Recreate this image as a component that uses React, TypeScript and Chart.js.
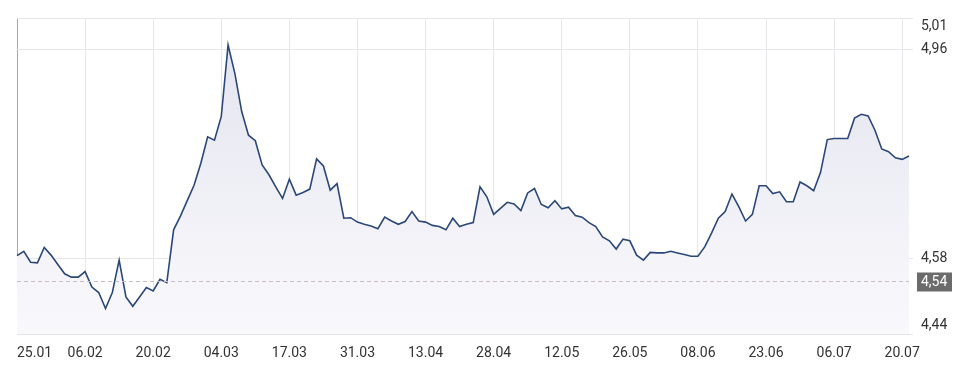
import { useEffect, useRef } from 'react';
import { Chart, registerables } from 'chart.js';

Chart.register(...registerables);

// Date labels shown every 10th point
const dateLabels = ['25.01', '06.02', '20.02', '04.03', '17.03', '31.03', '13.04', '28.04', '12.05', '26.05', '08.06', '23.06', '06.07', '20.07'];
const labelStep = 10;

// Series values (one per point)
const values = [
  4.586, 4.594, 4.574, 4.573, 4.601, 4.587, 4.570, 4.553, 4.547, 4.547,
  4.557, 4.529, 4.519, 4.490, 4.519, 4.578, 4.511, 4.494, 4.511, 4.528,
  4.522, 4.543, 4.537, 4.633, 4.658, 4.686, 4.714, 4.754, 4.802, 4.796,
  4.839, 4.969, 4.917, 4.848, 4.805, 4.795, 4.751, 4.733, 4.711, 4.690,
  4.725, 4.696, 4.701, 4.707, 4.762, 4.749, 4.705, 4.717, 4.654, 4.655,
  4.647, 4.643, 4.640, 4.635, 4.656, 4.649, 4.643, 4.648, 4.666, 4.649,
  4.647, 4.641, 4.639, 4.633, 4.654, 4.639, 4.643, 4.646, 4.711, 4.693,
  4.661, 4.672, 4.683, 4.680, 4.668, 4.700, 4.708, 4.679, 4.673, 4.686,
  4.671, 4.674, 4.659, 4.656, 4.646, 4.639, 4.620, 4.613, 4.598, 4.616,
  4.613, 4.587, 4.578, 4.592, 4.591, 4.591, 4.594, 4.591, 4.588, 4.585,
  4.585, 4.602, 4.627, 4.654, 4.666, 4.698, 4.675, 4.649, 4.661, 4.713,
  4.713, 4.699, 4.702, 4.684, 4.684, 4.720, 4.713, 4.704, 4.737, 4.797,
  4.799, 4.799, 4.799, 4.836, 4.843, 4.840, 4.814, 4.780, 4.775, 4.764,
  4.761, 4.767,
];

const categories = values.map((_, i) => String(i));

// Y axis
const yMin = 4.4436;
const yMax = 5.018;
const yTickValues = [4.4436, 4.58, 4.96, 5.018];
const yTickLabels = ['4,44', '4,58', '4,96', '5,01'];

// Reference (previous close) line
const refValue = 4.54;
const refLabel = '4,54';

const FONT = 'Roboto, "Noto Sans", sans-serif';

export default function App() {
  const canvasRef = useRef<HTMLCanvasElement | null>(null);

  useEffect(() => {
    const canvas = canvasRef.current;
    if (!canvas) return;

    const overlay = {
      id: 'overlay',
      afterDatasetsDraw(chart: any) {
        const { ctx, chartArea } = chart;
        const y = chart.scales.y.getPixelForValue(refValue);
        ctx.save();
        ctx.strokeStyle = '#c9bcc9';
        ctx.lineWidth = 1;
        ctx.setLineDash([4, 3]);
        ctx.beginPath();
        ctx.moveTo(chartArea.left, Math.round(y) + 0.5);
        ctx.lineTo(chartArea.right, Math.round(y) + 0.5);
        ctx.stroke();
        ctx.restore();
      },
      afterDraw(chart: any) {
        const { ctx, chartArea } = chart;
        const xs = chart.scales.x;
        ctx.save();
        ctx.font = `14px ${FONT}`;
        ctx.fillStyle = '#333333';
        ctx.textBaseline = 'middle';
        for (let i = 0; i < values.length; i += labelStep) {
          const lbl = dateLabels[i / labelStep];
          if (!lbl) continue;
          const x = xs.getPixelForValue(i);
          ctx.textAlign = i === 0 ? 'left' : 'center';
          ctx.fillText(lbl, x, chartArea.bottom + 19.5);
        }
        // reference value box
        const y = chart.scales.y.getPixelForValue(refValue);
        const bx = chartArea.right + 8;
        ctx.fillStyle = '#6b6b6b';
        ctx.fillRect(bx, Math.round(y) - 8.5, 35, 19);
        ctx.fillStyle = '#ffffff';
        ctx.textAlign = 'left';
        ctx.fillText(refLabel, chartArea.right + 12, Math.round(y) + 1);
        ctx.restore();
      },
    };

    const chart = new Chart(canvas, {
      type: 'line',
      data: {
        labels: categories,
        datasets: [
          {
            data: values,
            borderColor: '#2b4778',
            borderWidth: 1.6,
            pointRadius: 0,
            tension: 0,
            fill: 'start',
            backgroundColor: (c: any) => {
              const area = c.chart.chartArea;
              if (!area) return 'rgba(230,230,242,0.6)';
              const g = c.chart.ctx.createLinearGradient(0, area.top, 0, area.bottom);
              g.addColorStop(0, '#e3e3ef');
              g.addColorStop(1, '#f9f9fc');
              return g;
            },
          },
        ],
      },
      options: {
        responsive: false,
        animation: false,
        layout: { padding: { left: 9, top: 10, right: 0, bottom: 0 } },
        plugins: {
          legend: { display: false },
          tooltip: { enabled: false },
        },
        scales: {
          x: {
            type: 'category',
            afterFit: (s: any) => {
              s.height = 41;
              s.paddingLeft = 0;
              s.paddingRight = 0;
            },
            ticks: { display: false },
            grid: {
              drawTicks: false,
              color: (c: any) => (c.index === 0 ? '#a8a8a8' : c.index % labelStep === 0 ? '#e6e6eb' : 'rgba(0,0,0,0)'),
              lineWidth: 1,
            },
            border: { display: true, color: '#e3e3e8' },
          },
          y: {
            position: 'right',
            min: yMin,
            max: yMax,
            afterFit: (s: any) => {
              s.width = 55;
              s.paddingTop = 0;
              s.paddingBottom = 0;
            },
            afterBuildTicks: (s: any) => {
              s.ticks = yTickValues.map((v) => ({ value: v }));
            },
            ticks: {
              color: '#333333',
              font: { family: FONT, size: 14 },
              padding: 8,
              callback: (_v: any, i: number) => {
                const t = yTickLabels[i];
                if (i === 0) return [t, ''];
                if (i === yTickLabels.length - 1) return ['', t];
                return t;
              },
            },
            grid: { color: '#e6e6eb', tickLength: 4 },
            border: { display: false },
          },
        },
      },
      plugins: [overlay],
    });

    return () => chart.destroy();
  }, []);

  return (
    <div>
      <canvas ref={canvasRef} width={956} height={367} style={{ display: 'block' }} />
    </div>
  );
}
